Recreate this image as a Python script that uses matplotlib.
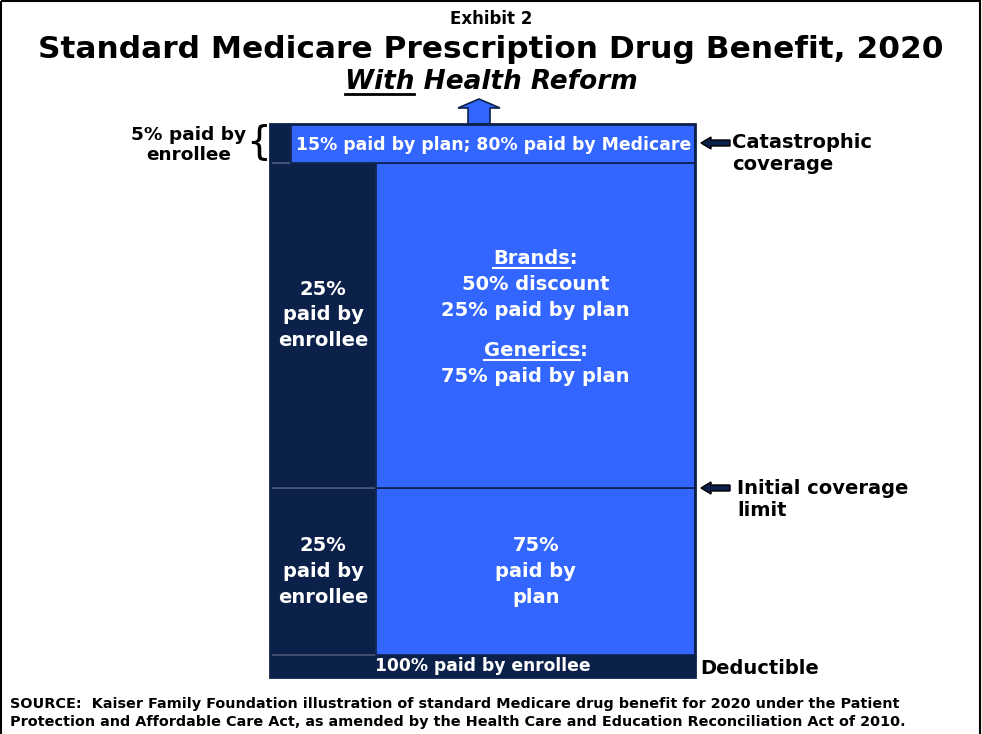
import matplotlib
matplotlib.use("Agg")
import matplotlib.pyplot as plt
from matplotlib import patches

# coverage phases, bottom to top
phases = ["Deductible", "Initial coverage", "Coverage gap", "Catastrophic"]
enrollee_share = [100, 25, 25, 5]          # % paid by enrollee
band_height = [22, 167, 325, 39]           # schematic heights (not to scale)

NAVY = "#0b2149"
BLUE = "#3366ff"
EDGE = "#4a5878"

W, H = 982, 734
fig = plt.figure(figsize=(W / 100, H / 100), dpi=100)

# overlay in pixel coords for the annotations
ov = fig.add_axes([0, 0, 1, 1])
ov.set_xlim(0, W)
ov.set_ylim(H, 0)
ov.axis("off")
ov.add_patch(patches.Rectangle((1, 1), W - 3, H + 5, fill=False, ec="black", lw=1.5))

# the benefit box
bx0, bx1, by0, by1 = 270, 695, 124, 677
ax = fig.add_axes([bx0 / W, (H - by1) / H, (bx1 - bx0) / W, (by1 - by0) / H])
ax.set_xlim(0, 100)
ax.set_ylim(0, sum(band_height))
ax.axis("off")

bottoms = []
b = 0
for h in band_height:
    bottoms.append(b)
    b += h
for i in range(len(phases)):
    s = enrollee_share[i]
    yc = bottoms[i] + band_height[i] / 2
    ec = NAVY if s == 100 else EDGE
    ax.barh(yc, s, height=band_height[i], left=0, color=NAVY, edgecolor=ec, lw=1.2)
    if s < 100:
        ax.barh(yc, 100 - s, height=band_height[i], left=s, color=BLUE, edgecolor=NAVY, lw=1.2)
ax.add_patch(patches.Rectangle((0, 0), 100, sum(band_height), fill=False, ec=NAVY, lw=2,
                               transform=ax.transData, clip_on=False))

wt = dict(color="white", fontweight="bold", ha="center", va="center")
top = sum(band_height)
# catastrophic
yc = bottoms[3] + band_height[3] / 2
ax.text(52.5, yc - 1, "15% paid by plan; 80% paid by Medicare", fontsize=12.4, **wt)
# deductible
yc = bottoms[0] + band_height[0] / 2
ax.text(50, yc, "100% paid by enrollee", fontsize=12.3, **wt)
# initial coverage
yc = bottoms[1] + band_height[1] / 2
ax.text(12.5, yc, "25%\npaid by\nenrollee", fontsize=14, linespacing=1.45, **wt)
ax.text(62.5, yc, "75%\npaid by\nplan", fontsize=14, linespacing=1.45, **wt)


def px(y):
    # pixel row -> box data y
    return by1 - y


# coverage gap
ax.text(12.5, px(315), "25%\npaid by\nenrollee", fontsize=14, linespacing=1.45, **wt)
ax.text(62.5, px(285), "50% discount", fontsize=14, **wt)
ax.text(62.5, px(311), "25% paid by plan", fontsize=14, **wt)
ax.text(62.5, px(377), "75% paid by plan", fontsize=14, **wt)

fig.canvas.draw()
rend = fig.canvas.get_renderer()


def underline(axis, x, y, word, rest, lw, **kw):
    t = axis.text(x, y, word + rest, **kw)
    full = t.get_window_extent(rend)
    tmp = axis.text(0, 0, word, **{k: v for k, v in kw.items() if k not in ("ha", "va")})
    wb = tmp.get_window_extent(rend)
    tmp.remove()
    inv = fig.transFigure.inverted()
    x0 = full.x0
    yb = full.y0 + 1
    p0 = inv.transform((x0, yb))
    p1 = inv.transform((x0 + wb.width, yb))
    fig.add_artist(plt.Line2D([p0[0], p1[0]], [p0[1], p1[1]], color=kw.get("color", "black"),
                              lw=lw, transform=fig.transFigure))


# underlined brand / generic headers
for word, yy in [("Brands", 259), ("Generics", 351)]:
    underline(ax, 62.5, px(yy), word, ":", 1.5, fontsize=14, **wt)

# titles
ov.text(491, 19, "Exhibit 2", fontsize=12, fontweight="bold", ha="center", va="center")
ov.text(491, 50, "Standard Medicare Prescription Drug Benefit, 2020", fontsize=22.5,
        fontweight="bold", ha="center", va="center")
underline(ov, 491, 82, "With", " Health Reform", 2, fontsize=19, fontweight="bold",
          fontstyle="italic", ha="center", va="center", color="black")

# arrow out of the top
ov.add_patch(patches.FancyArrow(479, 124, 0, -16, width=22, head_width=42, head_length=9,
                                length_includes_head=False, fc=BLUE, ec=NAVY, lw=1.2))

# side arrows and labels
for ya in [143, 488]:
    ov.add_patch(patches.FancyArrow(730, ya, -19, 0, width=6, head_width=12, head_length=10,
                                    fc=NAVY, ec="black", lw=1))
ov.text(732, 153, "Catastrophic\ncoverage", fontsize=14, fontweight="bold", ha="left",
        va="center", linespacing=1.2)
ov.text(737, 500, "Initial coverage\nlimit", fontsize=14, fontweight="bold", ha="left",
        va="center", linespacing=1.2)
ov.text(700, 668, "Deductible", fontsize=14, fontweight="bold", ha="left", va="center")

ov.text(189, 145, "5% paid by\nenrollee", fontsize=13.3, fontweight="bold", ha="center",
        va="center", linespacing=1.2)
ov.text(259, 142, "{", fontsize=28, ha="center", va="center")

ov.text(10, 713, "SOURCE:  Kaiser Family Foundation illustration of standard Medicare drug benefit for 2020 under the Patient\n"
        "Protection and Affordable Care Act, as amended by the Health Care and Education Reconciliation Act of 2010.",
        fontsize=10.4, fontweight="bold", ha="left", va="center", linespacing=1.3)

fig.savefig("out.png", dpi=100)
